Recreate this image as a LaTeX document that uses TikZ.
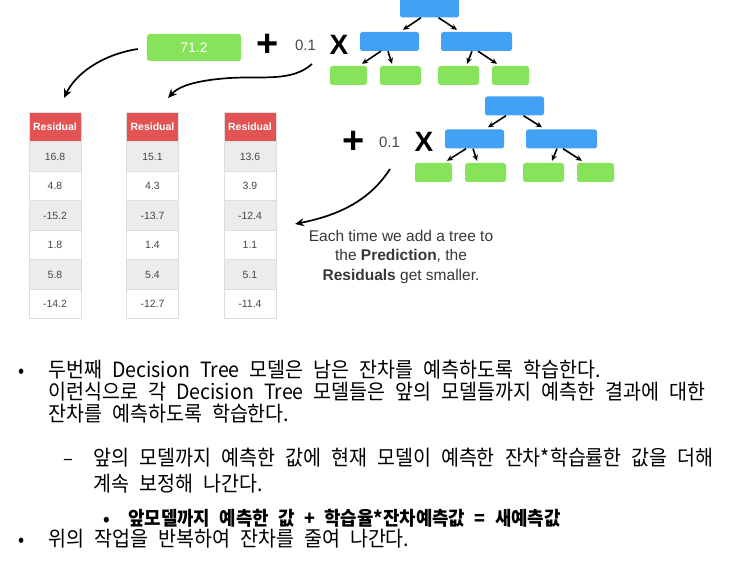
\documentclass[tikz,border=0pt]{standalone}
\usepackage{fontspec}
\usepackage{tikz}
\usetikzlibrary{arrows.meta}
\newfontfamily\hv{Liberation Sans}
\newfontfamily\kr[WordSpace=2.3,FakeStretch=0.93]{Noto Sans CJK KR}
\definecolor{leafgreen}{RGB}{135,228,90}
\definecolor{splitblue}{RGB}{66,160,245}
\definecolor{headred}{RGB}{226,84,84}
\definecolor{rowgray}{RGB}{236,236,236}
\definecolor{cellline}{RGB}{222,222,222}
\definecolor{txtgray}{RGB}{70,70,70}

\begin{document}
\begin{tikzpicture}[x=1pt,y=-1pt,
  split/.style={fill=splitblue,rounded corners=2.5pt,minimum height=19pt,inner sep=0pt},
  leaf/.style={fill=leafgreen,rounded corners=2.5pt,minimum height=19pt,inner sep=0pt},
  tarrow/.style={-{Stealth[length=6pt,width=5.5pt]},line width=1.6pt},
  bigarrow/.style={-{Stealth[length=9pt,width=8pt]},line width=1.7pt},
  cell/.style={draw=cellline,line width=0.6pt,minimum width=52pt,minimum height=29.5pt,inner sep=0pt,text=txtgray,font=\hv\fontsize{10.5}{12}\selectfont},
  hdr/.style={cell,fill=headred,text=white,font=\hv\fontsize{10.5}{12}\selectfont\bfseries},
  cellg/.style={cell,fill=rowgray},
  cellw/.style={cell,fill=white},
  opsign/.style={inner sep=0pt,font=\hv\bfseries\fontsize{38}{38}\selectfont},
  xsign/.style={inner sep=0pt,font=\hv\bfseries\fontsize{28}{28}\selectfont},
  rate/.style={inner sep=0pt,text=txtgray,font=\hv\fontsize{15}{15}\selectfont},
  krline/.style={anchor=base west,inner sep=0pt,font=\kr\fontsize{21}{23}\selectfont},
  krbold/.style={anchor=base west,inner sep=0pt,font=\kr\bfseries\fontsize{19.2}{21}\selectfont},
  bul/.style={anchor=base,inner sep=0pt,font=\kr\fontsize{19.5}{22}\selectfont},
]
\useasboundingbox (0,0) rectangle (740,564);

% ---------------- PREDICTION ----------------

\node[leaf,minimum width=94pt,minimum height=27pt,text=white,font=\hv\fontsize{14}{16}\selectfont] (pred) at (194,47.5) {71.2};
\node[opsign] (plus1) at (268,45) {+};
\node[rate] (rate1) at (305.5,45) {0.1};
\node[xsign] (times1) at (339,45) {X};

% ---------------- TREE 1 ----------------

\node[split,minimum width=59pt] (Atop) at (429.5,8) {};
\node[split,minimum width=59pt] (Al) at (389.5,41.5) {};
\node[split,minimum width=71pt] (Ar) at (476.5,41.5) {};

\node[leaf,minimum width=37pt] (A1) at (348.5,75.5) {};
\node[leaf,minimum width=41pt] (A2) at (400.5,75.5) {};
\node[leaf,minimum width=41pt] (A3) at (458.5,75.5) {};
\node[leaf,minimum width=37pt] (A4) at (510.5,75.5) {};

\draw[tarrow] ([xshift=-8.5pt]Atop.south) -- ([xshift=13.5pt,yshift=2pt]Al.north);
\draw[tarrow] ([xshift=9pt]Atop.south) -- ([xshift=-19.5pt,yshift=2pt]Ar.north);
\draw[tarrow] ([xshift=-8.5pt]Al.south) -- ([xshift=13.5pt,yshift=2pt]A1.north);
\draw[tarrow] ([xshift=-1.5pt]Al.south) -- ([xshift=-8.5pt,yshift=2pt]A2.north);
\draw[tarrow] ([xshift=-4.5pt]Ar.south) -- ([xshift=8.5pt,yshift=2pt]A3.north);
\draw[tarrow] ([xshift=1.5pt]Ar.south) -- ([xshift=-13.5pt,yshift=2pt]A4.north);

% ---------------- TREE 2 ----------------

\node[opsign] (plus2) at (353.5,142) {+};
\node[rate] (rate2) at (389.5,142) {0.1};
\node[xsign] (times2) at (424,142) {X};

\node[split,minimum width=59pt] (Btop) at (514.5,106) {};
\node[split,minimum width=59pt] (Bl) at (474.5,139) {};
\node[split,minimum width=71pt] (Br) at (561.5,139) {};

\node[leaf,minimum width=37pt] (B1) at (433.5,172.5) {};
\node[leaf,minimum width=41pt] (B2) at (485.5,172.5) {};
\node[leaf,minimum width=41pt] (B3) at (543.5,172.5) {};
\node[leaf,minimum width=37pt] (B4) at (595.5,172.5) {};

\draw[tarrow] ([xshift=-8.5pt]Btop.south) -- ([xshift=13.5pt,yshift=2pt]Bl.north);
\draw[tarrow] ([xshift=9pt]Btop.south) -- ([xshift=-19.5pt,yshift=2pt]Br.north);
\draw[tarrow] ([xshift=-8.5pt]Bl.south) -- ([xshift=13.5pt,yshift=2pt]B1.north);
\draw[tarrow] ([xshift=-1.5pt]Bl.south) -- ([xshift=-8.5pt,yshift=2pt]B2.north);
\draw[tarrow] ([xshift=-4.5pt]Br.south) -- ([xshift=8.5pt,yshift=2pt]B3.north);
\draw[tarrow] ([xshift=1.5pt]Br.south) -- ([xshift=-13.5pt,yshift=2pt]B4.north);

% ---------------- RESIDUAL TABLES ----------------

\node[hdr] (R1h) at (55,127) {Residual};
\node[cellg] (R1a) at (55,156.5) {16.8};
\node[cellw] (R1b) at (55,186) {4.8};
\node[cellg] (R1c) at (55,215.5) {-15.2};
\node[cellw] (R1d) at (55,245) {1.8};
\node[cellg] (R1e) at (55,274.5) {5.8};
\node[cellw] (R1f) at (55,304) {-14.2};

\node[hdr] (R2h) at (152.5,127) {Residual};
\node[cellg] (R2a) at (152.5,156.5) {15.1};
\node[cellw] (R2b) at (152.5,186) {4.3};
\node[cellg] (R2c) at (152.5,215.5) {-13.7};
\node[cellw] (R2d) at (152.5,245) {1.4};
\node[cellg] (R2e) at (152.5,274.5) {5.4};
\node[cellw] (R2f) at (152.5,304) {-12.7};

\node[hdr] (R3h) at (250,127) {Residual};
\node[cellg] (R3a) at (250,156.5) {13.6};
\node[cellw] (R3b) at (250,186) {3.9};
\node[cellg] (R3c) at (250,215.5) {-12.4};
\node[cellw] (R3d) at (250,245) {1.1};
\node[cellg] (R3e) at (250,274.5) {5.1};
\node[cellw] (R3f) at (250,304) {-11.4};

% ---------------- CURVED ARROWS ----------------

\coordinate (c1s) at ([xshift=-9pt,yshift=-1.5pt]pred.west);
\coordinate (c1e) at (64,98);
\coordinate (c2s) at (312,64);
\coordinate (c2e) at (168,98);
\coordinate (c3s) at (390,169);
\coordinate (c3e) at (295,224);

\draw[bigarrow] (c1s) .. controls (100,55) and (75,75) .. (c1e);
\draw[bigarrow] (c2s) .. controls (292,82) and (262,76) .. (230,78) .. controls (200,80) and (180,85) .. (c2e);
\draw[bigarrow] (c3s) .. controls (370,200) and (340,215) .. (c3e);

\node[align=center,text={rgb,255:red,55;green,55;blue,55},font=\hv\fontsize{15.5}{19.5}\selectfont] (note) at (401,256.5)
  {Each time we add a tree to\\ the \textbf{Prediction}, the\\ \textbf{Residuals} get smaller.};

% ---------------- KOREAN NOTES ----------------

\node[bul] (d1) at (22,378) {•};
\node[krline] (t1) at (48,378) {두번째 Decision Tree 모델은 남은 잔차를 예측하도록 학습한다.};
\node[krline] (t2) at (48,400) {이런식으로 각 Decision Tree 모델들은 앞의 모델들까지 예측한 결과에 대한};
\node[krline] (t3) at (48,421.5) {잔차를 예측하도록 학습한다.};

\node[bul] (d2) at (68,465) {–};
\node[krline] (t4) at (93,465.5) {앞의 모델까지 예측한 값에 현재 모델이 예측한 잔차*학습률한 값을 더해};
\node[krline] (t5) at (93,491) {계속 보정해 나간다.};

\node[bul,font=\kr\bfseries\fontsize{17.8}{20}\selectfont] (d3) at (107,525) {•};
\node[krbold] (t6) at (128,525) {앞모델까지 예측한 값 + 학습율*잔차예측값 = 새예측값};

\node[bul] (d4) at (22,546) {•};
\node[krline] (t7) at (48,546.5) {위의 작업을 반복하여 잔차를 줄여 나간다.};

\end{tikzpicture}
\end{document}
